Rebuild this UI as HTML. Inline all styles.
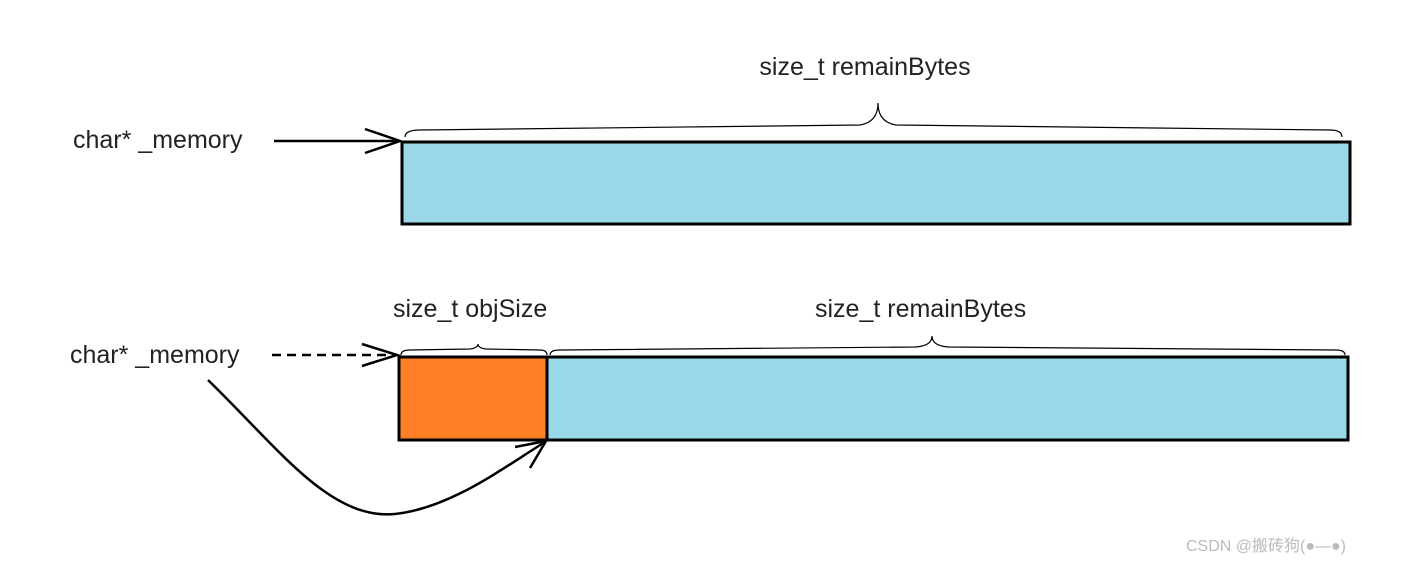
<!DOCTYPE html>
<html><head><meta charset="utf-8"><style>
body{margin:0;background:#fff;width:1403px;height:564px;overflow:hidden}
text{font-family:"Liberation Sans","Noto Sans CJK SC",sans-serif;fill:#222}
</style></head><body>
<svg width="1403" height="564" xmlns="http://www.w3.org/2000/svg">
<text x="865" y="75" font-size="25" text-anchor="middle">size_t remainBytes</text>
<text x="73" y="148" font-size="25">char* _memory</text>
<path d="M405 137 Q405 130 420 130 L860 125 Q878 122 878 103 Q878 122 896 125 L1330 130 Q1342 130 1342 137" fill="none" stroke="#000" stroke-width="1.2"/>
<line x1="274" y1="141" x2="398" y2="141" stroke="#000" stroke-width="2.5"/>
<path d="M365 129 L400 141 L365 153" fill="none" stroke="#000" stroke-width="2.5"/>
<rect x="402" y="142" width="948" height="82" fill="#9bd8e9" stroke="#000" stroke-width="3"/>

<text x="393" y="317" font-size="25">size_t objSize</text>
<text x="815" y="317" font-size="25">size_t remainBytes</text>
<text x="70" y="363" font-size="25">char* _memory</text>
<path d="M401 355 Q401 350 410 350 L470 349 Q478 348 478 344 Q478 348 486 349 L540 350 Q547 350 547 355" fill="none" stroke="#000" stroke-width="1.2"/>
<path d="M550 355 Q550 350 560 350 L915 347 Q932 346 932 336 Q932 346 949 347 L1336 350 Q1345 350 1345 355" fill="none" stroke="#000" stroke-width="1.2"/>
<line x1="272" y1="355" x2="395" y2="355" stroke="#000" stroke-width="2.5" stroke-dasharray="9,6"/>
<path d="M362 344 L397 355 L362 366" fill="none" stroke="#000" stroke-width="2.5"/>
<rect x="399" y="357" width="148" height="83" fill="#fe7f26" stroke="#000" stroke-width="3"/>
<rect x="547" y="357" width="801" height="83" fill="#9bd8e9" stroke="#000" stroke-width="3"/>
<path d="M208 380 C280 450 330 520 395 514 C450 508 500 470 545 442" fill="none" stroke="#000" stroke-width="2.5"/>
<path d="M515 447 L546 441 L530 468" fill="none" stroke="#000" stroke-width="2.5"/>
<text x="1186" y="551" font-size="16" fill="#bbb" style="fill:#bbb">CSDN @搬砖狗(●—●)</text>
</svg>
</body></html>
